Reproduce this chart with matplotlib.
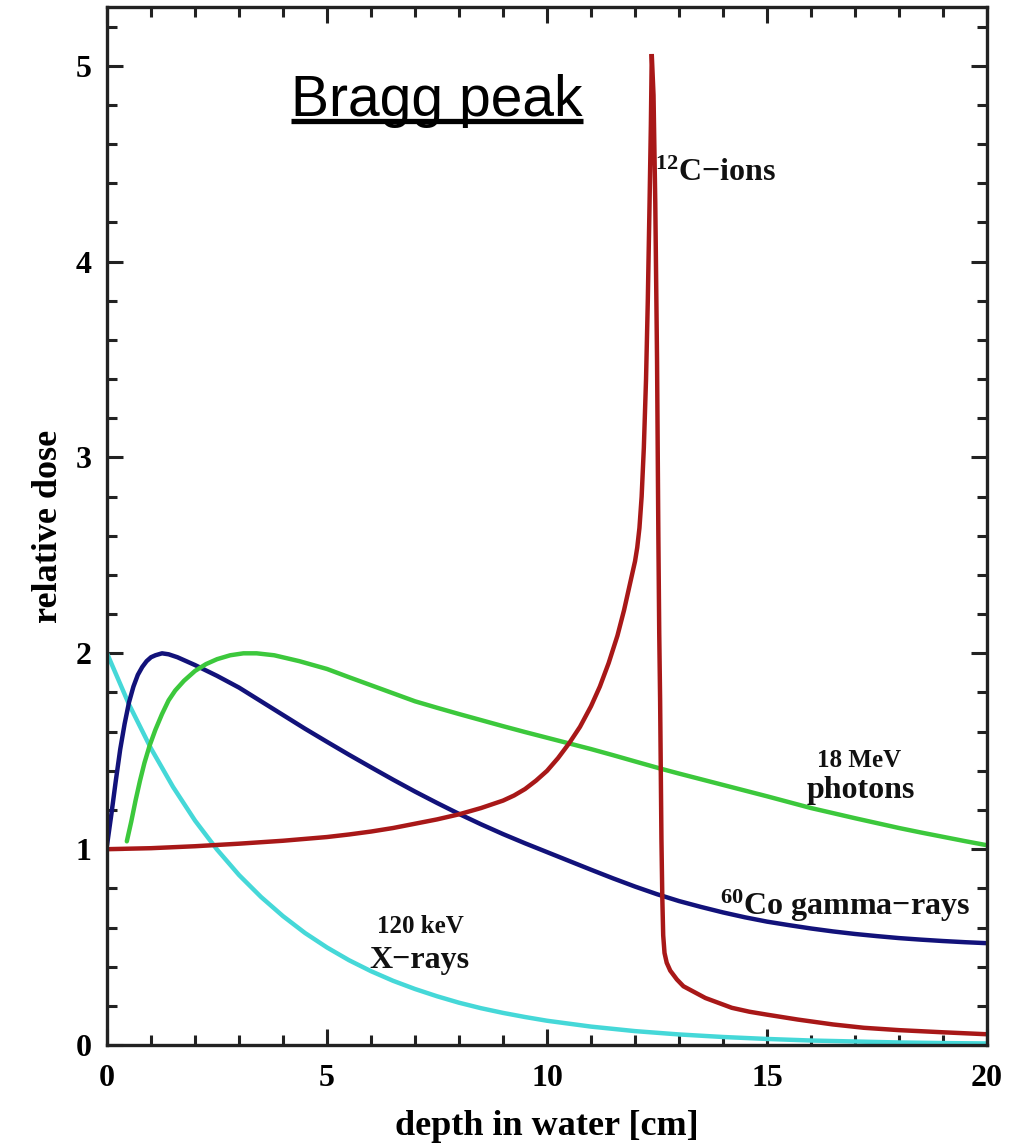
import matplotlib
matplotlib.use("Agg")
import matplotlib.pyplot as plt
from matplotlib.ticker import MultipleLocator

plt.rcParams['font.family'] = ['Liberation Serif', 'DejaVu Serif']
plt.rcParams['font.weight'] = 'bold'
plt.rcParams['axes.labelweight'] = 'bold'
plt.rcParams['mathtext.fontset'] = 'custom'
plt.rcParams['mathtext.rm'] = 'Liberation Serif:bold'
plt.rcParams['mathtext.it'] = 'Liberation Serif:italic:bold'
plt.rcParams['mathtext.bf'] = 'Liberation Serif:bold'

# ---- data (depth in cm, relative dose) ----
xray_x = [0.0, 0.5, 1.0, 1.5, 2.0, 2.5, 3.0, 3.5, 4.0, 4.5, 5.0, 5.5, 6.0, 6.5, 7.0,
          7.5, 8.0, 8.5, 9.0, 9.5, 10.0, 11.0, 12.0, 13.0, 14.0, 15.0, 16.0, 17.0,
          18.0, 19.0, 20.0]
xray_y = [2.0, 1.739, 1.514, 1.318, 1.146, 0.998, 0.868, 0.756, 0.658, 0.572, 0.498,
          0.433, 0.377, 0.328, 0.286, 0.249, 0.216, 0.188, 0.164, 0.143, 0.124,
          0.094, 0.071, 0.054, 0.041, 0.031, 0.023, 0.018, 0.013, 0.010, 0.008]

co_x = [0.0, 0.1, 0.2, 0.3, 0.4, 0.5, 0.6, 0.7, 0.8, 0.9, 1.0, 1.1, 1.25, 1.4, 1.6,
        1.8, 2.0, 2.5, 3.0, 3.5, 4.0, 4.5, 5.0, 5.5, 6.0, 6.5, 7.0, 7.5, 8.0, 8.5,
        9.0, 9.5, 10.0, 10.5, 11.0, 11.5, 12.0, 12.5, 13.0, 13.5, 14.0, 14.5, 15.0,
        15.5, 16.0, 16.5, 17.0, 17.5, 18.0, 18.5, 19.0, 19.5, 20.0]
co_y = [1.02, 1.18, 1.35, 1.51, 1.64, 1.75, 1.83, 1.89, 1.93, 1.96, 1.98, 1.99, 2.0,
        1.995, 1.98, 1.96, 1.94, 1.885, 1.825, 1.755, 1.685, 1.615, 1.548, 1.482,
        1.418, 1.355, 1.294, 1.236, 1.18, 1.127, 1.077, 1.03, 0.985, 0.94, 0.895,
        0.851, 0.809, 0.77, 0.735, 0.705, 0.677, 0.652, 0.63, 0.612, 0.595, 0.58,
        0.567, 0.556, 0.546, 0.538, 0.531, 0.525, 0.52]

ph_x = [0.45, 0.55, 0.65, 0.75, 0.85, 0.97, 1.1, 1.25, 1.4, 1.55, 1.75, 2.0, 2.25,
        2.5, 2.8, 3.1, 3.4, 3.8, 4.37, 5.0, 5.5, 6.0, 6.5, 7.0, 7.5, 8.0, 8.5, 9.0,
        9.5, 10.0, 10.5, 11.0, 11.5, 12.0, 12.6, 13.0, 13.5, 14.0, 14.5, 15.0, 15.5,
        16.0, 16.5, 17.0, 17.5, 18.0, 18.5, 19.0, 19.5, 20.0]
ph_y = [1.04, 1.14, 1.25, 1.35, 1.44, 1.53, 1.61, 1.69, 1.76, 1.81, 1.86, 1.91,
        1.945, 1.97, 1.99, 2.0, 2.0, 1.99, 1.96, 1.92, 1.878, 1.837, 1.796, 1.755,
        1.722, 1.69, 1.659, 1.628, 1.598, 1.569, 1.54, 1.511, 1.48, 1.448, 1.41,
        1.386, 1.357, 1.328, 1.299, 1.27, 1.24, 1.21, 1.184, 1.158, 1.133, 1.108,
        1.085, 1.063, 1.041, 1.02]

c12_x = [0.0, 1.0, 2.0, 3.0, 4.0, 5.0, 5.5, 6.0, 6.5, 7.0, 7.5, 8.0, 8.5, 9.0, 9.25,
         9.5, 9.75, 10.0, 10.25, 10.5, 10.75, 11.0, 11.2, 11.4, 11.6, 11.75, 11.9,
         12.0, 12.05, 12.1, 12.15, 12.2, 12.25, 12.29, 12.33, 12.36, 12.38, 12.42,
         12.46, 12.5, 12.53, 12.55, 12.57, 12.6, 12.62, 12.64, 12.67, 12.72, 12.8,
         12.95, 13.1, 13.35, 13.6, 13.9, 14.2, 14.6, 15.0, 15.7, 16.5, 17.2, 18.0,
         19.0, 20.0]
c12_y = [1.0, 1.005, 1.015, 1.028, 1.043, 1.062, 1.075, 1.09, 1.108, 1.13, 1.152,
         1.178, 1.21, 1.248, 1.274, 1.307, 1.35, 1.40, 1.465, 1.54, 1.625, 1.73,
         1.83, 1.95, 2.09, 2.22, 2.37, 2.47, 2.54, 2.64, 2.8, 3.05, 3.4, 3.8, 4.3,
         4.7, 5.06, 4.85, 4.3, 3.5, 2.6, 2.1, 1.76, 1.05, 0.75, 0.56, 0.47, 0.42,
         0.38, 0.335, 0.30, 0.27, 0.24, 0.215, 0.19, 0.17, 0.155, 0.13, 0.105,
         0.088, 0.076, 0.065, 0.055]

x_ticks = [0, 5, 10, 15, 20]
y_ticks = [0, 1, 2, 3, 4, 5]

fig = plt.figure(figsize=(10.30, 11.48), dpi=100)
ax = fig.add_axes([0.1039, 0.0897, 0.8544, 0.9042])

lw = 3.2
ax.plot(xray_x, xray_y, color='#45d8d8', lw=lw, solid_capstyle='round')
ax.plot(co_x, co_y, color='#12127a', lw=lw, solid_capstyle='round')
ax.plot(ph_x, ph_y, color='#3cc83c', lw=lw, solid_capstyle='round')
ax.plot(c12_x, c12_y, color='#a81818', lw=lw, solid_joinstyle='miter')

ax.set_xlim(0, 20)
ax.set_ylim(0, 5.3)
ax.set_xticks(x_ticks)
ax.set_yticks(y_ticks)
ax.xaxis.set_minor_locator(MultipleLocator(1))
ax.yaxis.set_minor_locator(MultipleLocator(0.2))
ax.tick_params(which='both', direction='in', top=True, right=True, color='#222222',
               width=2.2)
ax.tick_params(which='major', length=11.5, labelsize=23)
ax.tick_params(which='minor', length=7)
ax.tick_params(axis='y', which='major', pad=11)
ax.tick_params(axis='x', which='major', pad=14)
for s in ax.spines.values():
    s.set_linewidth(2.4)
    s.set_color('#222222')

ax.set_xlabel('depth in water [cm]', fontsize=26, fontweight='bold', labelpad=12)
ax.set_ylabel('relative dose', fontsize=26, fontweight='bold', labelpad=8)

# curve annotations
tc = '#111111'
ax.text(12.46, 4.41, '$^{12}$C\u2212ions', fontsize=23,
        ha='left', va='baseline', color=tc)
ax.text(13.93, 0.663, '$^{60}$Co gamma\u2212rays', fontsize=23, ha='left',
        va='baseline', color=tc)
ax.text(17.1, 1.42, '18 MeV', fontsize=18, ha='center',
        va='baseline', color=tc)
ax.text(17.12, 1.26, 'photons', fontsize=23, ha='center', va='baseline', color=tc)
ax.text(7.13, 0.571, '120 keV', fontsize=18, ha='center',
        va='baseline', color=tc)
ax.text(7.11, 0.393, 'X\u2212rays', fontsize=23, ha='center', va='baseline', color=tc)

# title-like label with underline
t = ax.text(7.5, 4.745, 'Bragg peak', fontsize=41, family='Liberation Sans',
            fontweight='normal', ha='center', va='baseline', color='black')
fig.canvas.draw()
bb = t.get_window_extent()
inv = ax.transData.inverted()
(x0, _), (x1, _) = inv.transform([(bb.x0, 0), (bb.x1, 0)])
ax.plot([x0, x1], [4.72, 4.72], color='black', lw=3.8, solid_capstyle='butt')

fig.savefig('out.png', dpi=100, facecolor='white')
